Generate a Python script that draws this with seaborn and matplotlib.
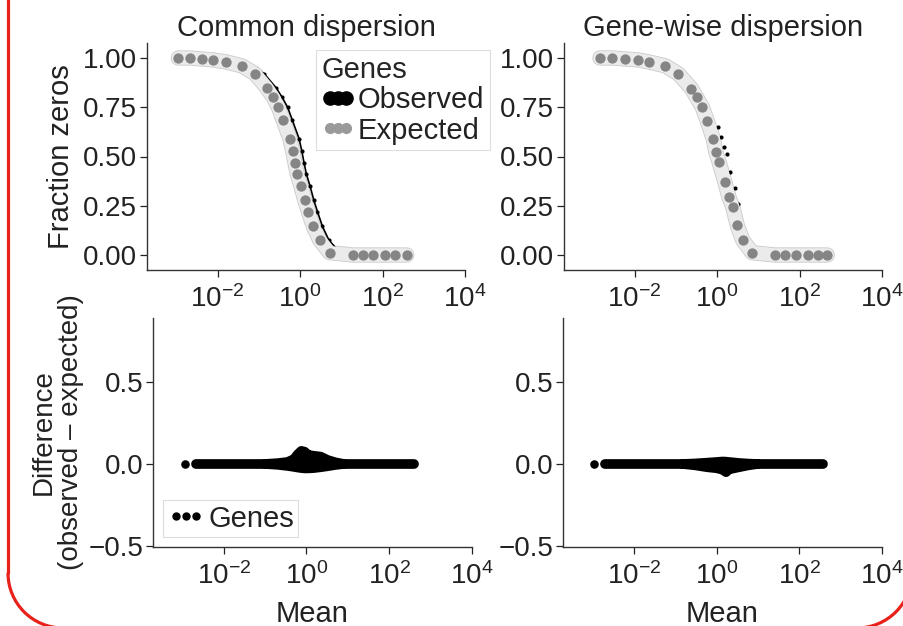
import seaborn as sns
import matplotlib.pyplot as plt
from matplotlib.lines import Line2D
from matplotlib.patches import Arc
from matplotlib.ticker import NullLocator
from matplotlib.transforms import IdentityTransform

# values (gene mean on a log axis)
# top left - common dispersion
common_mean = [0.00112, 0.00215, 0.0041, 0.0079, 0.016, 0.039, 0.081, 0.155, 0.225,
               0.30, 0.39, 0.57, 0.66, 0.76, 0.86, 1.05, 1.3, 1.6, 2.1, 3.0, 5.2,
               19.6, 34, 60, 115, 200, 387]
common_expected = [1.0, 1.0, 0.995, 0.99, 0.98, 0.96, 0.92, 0.85, 0.80, 0.75, 0.685,
                   0.59, 0.53, 0.465, 0.41, 0.35, 0.28, 0.22, 0.145, 0.076, 0.012,
                   0.0, 0.0, 0.0, 0.0, 0.0, 0.0]
common_obs_mean = [0.00112, 0.00215, 0.0041, 0.0079, 0.016, 0.039, 0.085, 0.135, 0.26,
                   0.37, 0.5, 0.65, 0.95, 1.1, 1.26, 1.43, 1.75, 2.15, 2.65, 3.5, 5.0,
                   8.6, 19.6, 34, 60, 115, 200, 387]
common_observed = [1.0, 1.0, 0.998, 0.995, 0.99, 0.975, 0.945, 0.92, 0.85, 0.80, 0.75,
                   0.685, 0.59, 0.53, 0.465, 0.41, 0.35, 0.28, 0.22, 0.145, 0.076,
                   0.02, 0.0, 0.0, 0.0, 0.0, 0.0, 0.0]

# top right - gene-wise dispersion
genewise_mean = [0.00145, 0.0029, 0.0059, 0.0123, 0.022, 0.056, 0.115, 0.24, 0.32, 0.44,
                 0.58, 0.81, 0.93, 1.13, 1.55, 1.93, 2.4, 3.1, 4.2, 7.1, 25, 44, 80,
                 162, 282, 470]
genewise_expected = [1.0, 1.0, 0.995, 0.99, 0.98, 0.96, 0.92, 0.845, 0.80, 0.75, 0.68,
                     0.59, 0.525, 0.47, 0.37, 0.295, 0.245, 0.15, 0.075, 0.012, 0.0,
                     0.0, 0.0, 0.0, 0.0, 0.0]
genewise_obs_mean = [0.00145, 0.0029, 0.0059, 0.0123, 0.022, 0.056, 0.115, 0.24, 0.32,
                     0.44, 0.58, 0.81, 1.07, 1.28, 1.45, 1.7, 2.1, 2.7, 3.3, 4.2, 7.1,
                     25, 44, 80, 162, 282, 470]
genewise_observed = [1.0, 1.0, 0.996, 0.99, 0.98, 0.96, 0.92, 0.85, 0.80, 0.75, 0.68,
                     0.59, 0.65, 0.60, 0.55, 0.515, 0.42, 0.34, 0.26, 0.09, 0.014,
                     0.0, 0.0, 0.0, 0.0, 0.0, 0.0]

# bottom left - observed minus expected (common)
common_band_mean = [0.0021, 0.01, 0.1, 1.0, 10.0, 100.0, 390.0]
common_band_diff = [0.0, 0.0, 0.0, 0.0, 0.0, 0.0, 0.0]
common_bulge_mean = [0.1, 0.2, 0.35, 0.5, 0.62, 0.75, 0.9, 1.1, 1.5, 2.2, 3.2, 5.0, 8.0]
common_bulge_hi = [0.0, 0.005, 0.012, 0.03, 0.06, 0.08, 0.075, 0.055, 0.05, 0.045,
                   0.025, 0.01, 0.0]
common_bulge_lo = [0.0, -0.005, -0.012, -0.018, -0.022, -0.025, -0.027, -0.027, -0.025,
                   -0.02, -0.014, -0.006, 0.0]
common_lone_mean = [0.00118]
common_lone_diff = [0.0]

# bottom right - observed minus expected (gene-wise)
genewise_band_mean = [0.002, 0.01, 0.1, 1.0, 10.0, 100.0, 380.0]
genewise_band_diff = [0.0, 0.0, 0.0, 0.0, 0.0, 0.0, 0.0]
genewise_bulge_mean = [0.15, 0.3, 0.6, 1.0, 1.4, 1.7, 2.0, 3.5, 6.0, 10.0]
genewise_bulge_hi = [0.0, 0.003, 0.008, 0.012, 0.015, 0.014, 0.012, 0.006, 0.002, 0.0]
genewise_bulge_lo = [0.0, -0.008, -0.02, -0.026, -0.035, -0.05, -0.033, -0.02, -0.008, 0.0]
genewise_lone_mean = [0.00107]
genewise_lone_diff = [0.0]

FS = 20
INK = '#222222'
RED = '#e8211b'

sns.set_theme(style="ticks")
plt.rcParams['font.family'] = ['Liberation Sans', 'DejaVu Sans']
plt.rcParams['mathtext.fontset'] = 'custom'
plt.rcParams['mathtext.rm'] = 'Liberation Sans'
plt.rcParams['mathtext.it'] = 'Liberation Sans:italic'
plt.rcParams['mathtext.bf'] = 'Liberation Sans:bold'


def style_axis(ax, ylim, yticks):
    ax.set_xscale('log')
    ax.set_xlim(1.95e-4, 1e4)
    ax.set_ylim(*ylim)
    ax.set_xticks([1e-2, 1, 1e2, 1e4])
    ax.xaxis.set_minor_locator(NullLocator())
    ax.set_yticks(yticks)
    ax.tick_params(labelsize=FS, length=5, width=0.9, pad=2, colors=INK)
    ax.tick_params(axis='x', pad=6)
    for s in ('left', 'bottom'):
        ax.spines[s].set_linewidth(1.0)
        ax.spines[s].set_color('#333333')
    sns.despine(ax=ax)


def draw_fraction(ax, mean_e, frac_e, mean_o, frac_o, connect):
    style_axis(ax, (-0.076, 1.076), [0, 0.25, 0.5, 0.75, 1.0])
    # light cloud around the expected curve, observed genes tucked under it
    sns.lineplot(x=mean_e, y=frac_e, ax=ax, color='#cacaca', lw=11,
                 solid_capstyle='round', solid_joinstyle='round', zorder=1)
    if connect:
        sns.lineplot(x=mean_o, y=frac_o, ax=ax, color='black', lw=1.2, zorder=1.5)
    sns.scatterplot(x=mean_o, y=frac_o, ax=ax, color='black', s=9, linewidth=0, zorder=1.5)
    sns.lineplot(x=mean_e, y=frac_e, ax=ax, color='#ebebeb', lw=9.8,
                 solid_capstyle='round', solid_joinstyle='round', zorder=1.6)
    sns.scatterplot(x=mean_e, y=frac_e, ax=ax, color='#858585', s=55, linewidth=0, zorder=4)


def draw_diff(ax, band_m, band_d, bulge_m, hi, lo, lone_m, lone_d):
    style_axis(ax, (-0.508, 0.893), [-0.5, 0.0, 0.5])
    ax.fill_between(bulge_m, lo, hi, color='black', lw=0, zorder=2)
    for y in (hi, lo):
        sns.lineplot(x=bulge_m, y=y, ax=ax, color='black', lw=7,
                     solid_capstyle='round', solid_joinstyle='round', zorder=2)
    sns.lineplot(x=band_m, y=band_d, ax=ax, color='black', lw=7,
                 solid_capstyle='round', zorder=2)
    sns.scatterplot(x=lone_m, y=lone_d, ax=ax, color='black', s=38, linewidth=0, zorder=3)


fig = plt.figure(figsize=(9.04, 6.26), dpi=100)
ax_tl = fig.add_axes([0.1626, 0.5687, 0.3518, 0.3626])
ax_tr = fig.add_axes([0.6239, 0.5687, 0.3518, 0.3626])
ax_bl = fig.add_axes([0.1692, 0.1262, 0.3529, 0.3658])
ax_br = fig.add_axes([0.6228, 0.1262, 0.3529, 0.3658])

draw_fraction(ax_tl, common_mean, common_expected, common_obs_mean, common_observed, True)
draw_fraction(ax_tr, genewise_mean, genewise_expected, genewise_obs_mean, genewise_observed, False)
draw_diff(ax_bl, common_band_mean, common_band_diff, common_bulge_mean,
          common_bulge_hi, common_bulge_lo, common_lone_mean, common_lone_diff)
draw_diff(ax_br, genewise_band_mean, genewise_band_diff, genewise_bulge_mean,
          genewise_bulge_hi, genewise_bulge_lo, genewise_lone_mean, genewise_lone_diff)

ax_tl.set_title('Common dispersion', fontsize=21, color=INK, pad=5)
ax_tr.set_title('Gene-wise dispersion', fontsize=21, color=INK, pad=5)

ax_tl.set_ylabel('Fraction zeros', fontsize=21, color=INK)
ax_tl.yaxis.set_label_coords(-0.225, 0.5)
ax_bl.set_ylabel('Difference\n(observed – expected)', fontsize=FS, color=INK, linespacing=1.1)
ax_bl.yaxis.set_label_coords(-0.215, 0.5)
for ax in (ax_tl, ax_tr):
    ax.set_xlabel('')
for ax in (ax_bl, ax_br):
    ax.set_xlabel('Mean', fontsize=21, color=INK, labelpad=7)
ax_tr.set_ylabel('')
ax_br.set_ylabel('')

leg_kw = dict(numpoints=3, handletextpad=0.1, borderaxespad=0, frameon=True,
              fancybox=False, edgecolor='#dddddd', framealpha=1, fontsize=21,
              labelcolor=INK)
obs_h = Line2D([], [], ls='none', marker='o', ms=9.5, color='black')
exp_h = Line2D([], [], ls='none', marker='o', ms=7, color='#9a9a9a')
leg = ax_tl.legend([obs_h, exp_h], ['Observed', 'Expected'], title='Genes',
                   loc='upper right', bbox_to_anchor=(1.079, 0.969),
                   handlelength=1.15, labelspacing=0.08, borderpad=0.2,
                   title_fontsize=21, alignment='left', **leg_kw)
leg.get_frame().set_linewidth(0.8)

gene_h = Line2D([], [], ls='none', marker='o', ms=5, color='black')
leg2 = ax_bl.legend([gene_h], ['Genes'], loc='lower left', bbox_to_anchor=(0.031, 0.044),
                    handlelength=1.3, borderpad=0.15, **leg_kw)
leg2.get_frame().set_linewidth(0.8)

# red rounded frame of the source panel (only the left side and bottom corners show)
px = IdentityTransform()
fig.add_artist(Line2D([8, 8], [53, 700], transform=px, color=RED, lw=2.3))
fig.add_artist(Arc((63, 53), 110, 110, theta1=180, theta2=270, transform=px,
                   color=RED, lw=2.3))
fig.add_artist(Arc((857, 53), 110, 110, theta1=270, theta2=360, transform=px,
                   color=RED, lw=2.3))

fig.savefig('out.png', dpi=100)
